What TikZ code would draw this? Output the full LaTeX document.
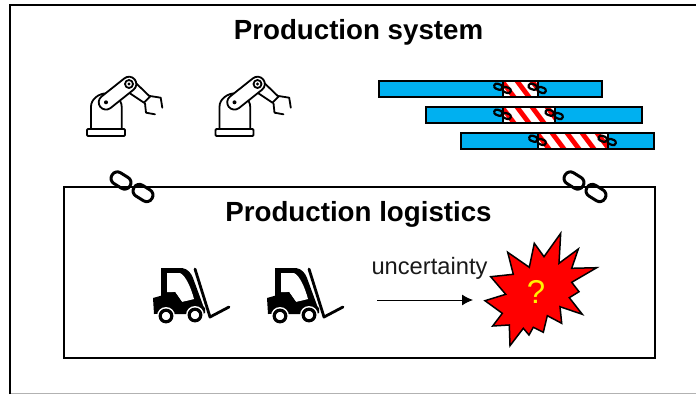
\documentclass[tikz,border=0pt]{standalone}
\usepackage{fontspec}
\usetikzlibrary{arrows.meta}
\setmainfont{Liberation Sans}
\definecolor{barblue}{RGB}{0,176,240}
\tikzset{
  x=1pt,y=-1pt,
  frameline/.style={draw=black,line width=1.6pt},
  barbox/.style={draw=black,line width=1.7pt,fill=barblue,outer sep=0pt,inner sep=0pt,anchor=north west,minimum height=16pt},
  titletext/.style={font=\bfseries\fontsize{27.7}{32}\selectfont,inner sep=0pt,anchor=center},
  plainlabel/.style={font=\fontsize{23.7}{28}\selectfont,inner sep=0pt,text=black!90},
  ink/.style={draw=black,line width=1.8pt,line join=round,line cap=round},
  robotarm/.pic={
    \draw[ink,fill=white,rounded corners=1pt] (-19,0) rectangle (19,7);
    \draw[ink] (-15,0) -- (-15,-22.3) .. controls (-15,-30) and (-7,-35.7) .. (0.7,-35.7);
    \draw[ink] (15.7,0) -- (15.7,-22.3) .. controls (15.7,-26) and (14,-29) .. (10.7,-30.7);
    \draw[ink] (25.7,-50) -- (44,-32.3);
    \draw[ink] (19,-39) -- (38,-26.3);
    \draw[ink] (38,-26.3) -- (44,-32.3);
    \begin{scope}[shift={(0,-26.7)},rotate=38.5]
      \draw[ink,fill=white] (0,-7.3) -- (29.4,-7.3) arc[start angle=-90,end angle=90,radius=7.3]
        -- (0,7.3) arc[start angle=90,end angle=270,radius=7.3] -- cycle;
    \end{scope}
    \draw[ink] (23,-45) circle[radius=4];
    \fill (23,-45) circle[radius=1.6];
    \fill (0,-26.7) circle[radius=2];
    \draw[ink] (44,-33) -- (54.7,-31.3) -- (56.3,-21.3);
    \draw[ink] (39,-25.7) -- (40,-16.3) -- (49,-14.7);
  },
  forklift/.pic={
    \fill[black] (-36,-44) -- (-15,-44) .. controls (-9,-43) and (-6,-39) .. (-4,-34)
      -- (7,-4) -- (7,2) -- (-36,2) -- cycle;
    \fill[white] (-30,-39) -- (-17,-39) .. controls (-11,-36) and (-6,-24) .. (-3,-13)
      -- (-15,-10) -- (-22,-20) -- (-30,-20) -- cycle;
    \fill[black] (-44,-14) -- (-37,-16) -- (-22,-20) -- (-15,-10) -- (0,-12) -- (8,-4) -- (8,1)
      -- (-43,2) -- cycle;
    \draw[black,line width=2.8pt,line cap=round,line join=round] (-2,-43) -- (13,5) -- (32,-5);
    \fill[white] (-31,4) circle[radius=9];
    \fill[white] (-2,3) circle[radius=9];
    \draw[black,line width=3.2pt,fill=white] (-31,4) circle[radius=5.8];
    \draw[black,line width=3.2pt,fill=white] (-2,3) circle[radius=5.8];
  },
  biglink/.pic={
    \draw[draw=black,line width=3pt,rounded corners=6pt,rotate=-32] (-10.5,-6.3) rectangle (10.5,6.3);
  },
  smalllink/.pic={
    \draw[draw=black,line width=2.2pt,rounded corners=2.5pt,rotate=-20] (-4.2,-2.6) rectangle (4.2,2.6);
  }
}
\begin{document}
\begin{tikzpicture}
\useasboundingbox (0,0) rectangle (696,394);
% outer frame
\coordinate (ftl) at (10,5);
\coordinate (fbl) at (10,394);
\coordinate (ftr) at (696,5);
\draw[frameline] (fbl) -- (ftl) -- (ftr);
\draw[black!30,line width=1pt] (11,393.5) -- (696,393.5);
\node[titletext] (title1) at (358.5,32) {Production system};
% robots
\pic (robA) at (106,129) {robotarm};
\pic (robB) at (234.5,129) {robotarm};
% bars
\node[barbox,minimum width=223pt] (barA) at (379,81) {};
\node[barbox,minimum width=216pt] (barB) at (426,107) {};
\node[barbox,minimum width=193pt] (barC) at (461,133) {};
\foreach \xa/\xb/\ya in {503/538/81,503/555/107,538/608/133}{
  \begin{scope}
    \clip (\xa,\ya) rectangle (\xb,\ya+16);
    \fill[white] (\xa,\ya) rectangle (\xb,\ya+16);
    \foreach \k in {-19,-4,...,80}{
      \fill[red] (\xa+\k,\ya) -- (\xa+\k+6,\ya) -- (\xa+\k+18,\ya+16) -- (\xa+\k+12,\ya+16) -- cycle;
    }
  \end{scope}
  \draw[black,line width=1.7pt] (\xa,\ya) rectangle (\xb,\ya+16);
  \pic at (\xa-4.7,\ya+5.7) {smalllink};
  \pic at (\xa+3.7,\ya+9) {smalllink};
  \pic at (\xb-5.3,\ya+5.7) {smalllink};
  \pic at (\xb+3.7,\ya+9) {smalllink};
}
% inner box
\node[draw=black,line width=1.6pt,outer sep=0pt,minimum width=591pt,minimum height=171pt,inner sep=0pt,anchor=north west] (logbox) at (64,187) {};
\node[titletext] (title2) at (358.5,214.5) {Production logistics};
% chain links
\pic at (121,180.5) {biglink};
\pic at (143,193) {biglink};
\pic at (574,180.5) {biglink};
\pic at (596,193) {biglink};
% forklifts
\pic (fkA) at (197,312) {forklift};
\pic (fkB) at (311,312) {forklift};
% uncertainty
\node[plainlabel] (unc) at (429.5,268) {uncertainty};
\coordinate (arrS) at (377,300);
\coordinate (arrE) at (473,300);
\draw[black,line width=1pt,-{Latex[length=11pt,width=11pt]}] (arrS) -- (arrE);
% burst
\filldraw[draw=black,fill=red,line width=1.5pt,line join=miter,miter limit=6]
 (560.7,233.3) -- (544,256.7) -- (534.3,243.3) -- (529.3,267.3) -- (507.7,252.3) -- (513.3,274.3)
 -- (490.7,276.7) -- (505.7,294.3) -- (485,300.7) -- (502.3,313.3) -- (492.7,326) -- (509.3,325)
 -- (510,345.7) -- (523.3,328.3) -- (529,335) -- (533.3,327.3) -- (543.3,332.3) -- (547.3,315.7)
 -- (561.7,323.3) -- (560,306.7) -- (582.3,314.3) -- (569.3,297.7) -- (579,291.7) -- (571.7,282.3)
 -- (596.7,267.7) -- (571.7,268.3) -- (578.3,249) -- (559,263.3) -- cycle;
\node[font=\fontsize{33}{38}\selectfont,text=yellow,inner sep=0pt] (qm) at (536,292) {?};
\end{tikzpicture}
\end{document}
